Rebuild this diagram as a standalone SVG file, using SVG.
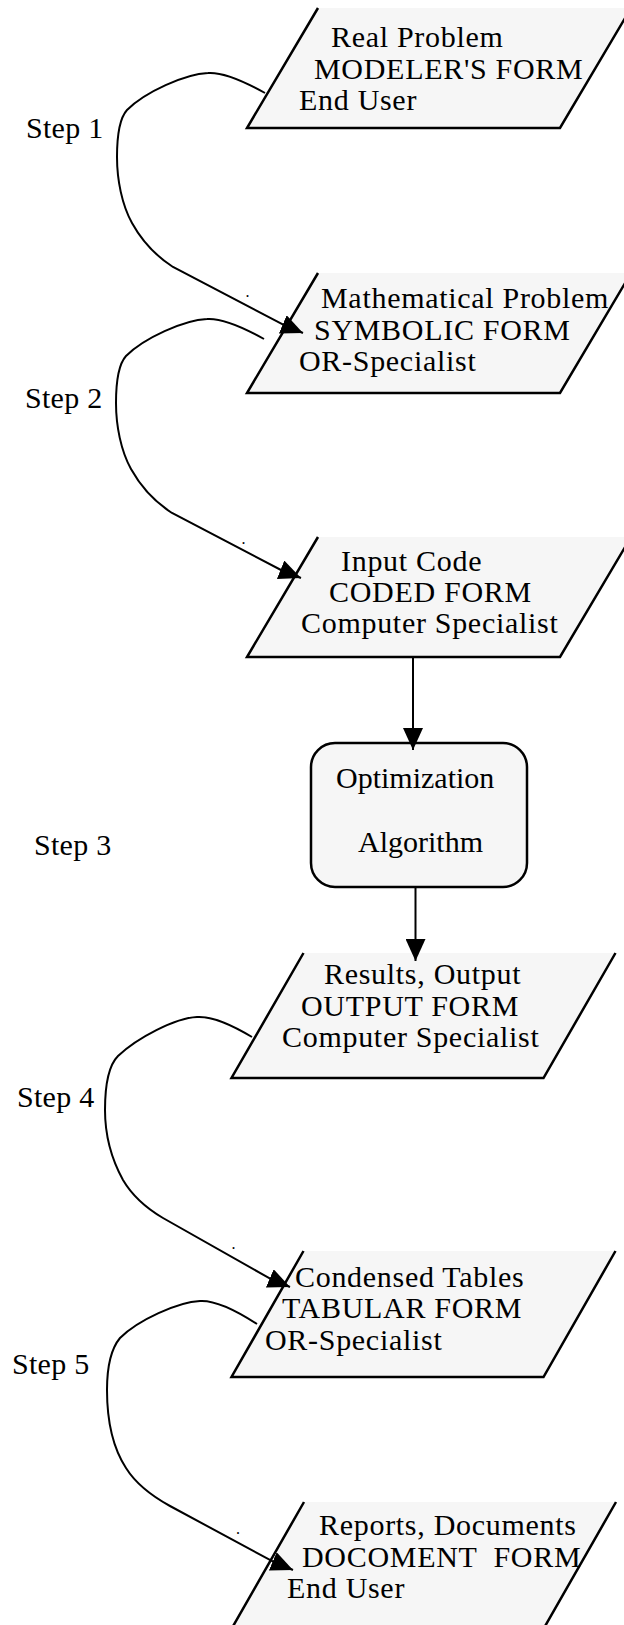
<svg xmlns="http://www.w3.org/2000/svg" width="624" height="1625" viewBox="0 0 624 1625">
  <style>
    .shape { fill: #f6f6f6; stroke: none; }
    .edge { fill: none; stroke: #000; stroke-width: 2.5; stroke-linejoin: miter; }
    .box { fill: #f6f6f6; stroke: #000; stroke-width: 2.5; }
    .t { font-family: "Liberation Serif", "Times New Roman", serif; font-size: 30px; fill: #000; white-space: pre; }
    .w { letter-spacing: 0.7px; }
    .s { letter-spacing: 0.3px; }
    .dot { font-family: "Liberation Serif", "Times New Roman", serif; font-size: 16px; fill: #000; }
    .link { fill: none; stroke: #000; stroke-width: 2; marker-end: url(#arrow); }
  </style>
  <defs>
    <marker id="arrow" markerUnits="userSpaceOnUse" viewBox="0 0 22 20" markerWidth="22" markerHeight="20" refX="22" refY="10" orient="auto">
      <path d="M0,0 L22,10 L0,20 z" fill="#000"/>
    </marker>
  </defs>

  <rect width="624" height="1625" fill="#fff"/>

  <!-- step labels on the left -->
  <g id="step-labels" class="t s">
    <text x="26" y="138">Step 1</text>
    <text x="25" y="408">Step 2</text>
    <text x="34" y="855">Step 3</text>
    <text x="17" y="1107">Step 4</text>
    <text x="12" y="1374">Step 5</text>
  </g>

  <!-- nodes: parallelograms are drawn open at the top -->
  <g id="real-problem" class="t w">
    <polygon class="shape" points="318,8 631,8 560,128 247,128"/>
    <polyline class="edge" points="318,8 247,128 560,128 631,8"/>
    <text x="331" y="47">Real Problem</text>
    <text x="314" y="79">MODELER'S FORM</text>
    <text x="299" y="110">End User</text>
  </g>

  <g id="mathematical-problem" class="t w">
    <polygon class="shape" points="318,273 631,273 560,393 247,393"/>
    <polyline class="edge" points="318,273 247,393 560,393 631,273"/>
    <text x="321" y="308">Mathematical Problem</text>
    <text x="314" y="340">SYMBOLIC FORM</text>
    <text x="299" y="371">OR-Specialist</text>
  </g>

  <g id="input-code" class="t w">
    <polygon class="shape" points="318,537 631,537 560,657 247,657"/>
    <polyline class="edge" points="318,537 247,657 560,657 631,537"/>
    <text x="341" y="571">Input Code</text>
    <text x="329" y="602">CODED FORM</text>
    <text x="301" y="633">Computer Specialist</text>
  </g>

  <g id="optimization-algorithm" class="t">
    <rect class="box" x="311" y="743" width="216" height="144" rx="24" ry="24"/>
    <text x="336" y="788">Optimization</text>
    <text x="358" y="852">Algorithm</text>
  </g>

  <g id="results-output" class="t w">
    <polygon class="shape" points="303.5,953 615.5,953 543.5,1078 231.5,1078"/>
    <polyline class="edge" points="303.5,953 231.5,1078 543.5,1078 615.5,953"/>
    <text x="324" y="984">Results, Output</text>
    <text x="301" y="1016">OUTPUT FORM</text>
    <text x="282" y="1047">Computer Specialist</text>
  </g>

  <g id="condensed-tables" class="t w">
    <polygon class="shape" points="303.5,1251 615.5,1251 543.5,1377 231.5,1377"/>
    <polyline class="edge" points="303.5,1251 231.5,1377 543.5,1377 615.5,1251"/>
    <text x="295" y="1287">Condensed Tables</text>
    <text x="282" y="1318">TABULAR FORM</text>
    <text x="265" y="1350">OR-Specialist</text>
  </g>

  <g id="reports-documents" class="t w">
    <polygon class="shape" points="304,1502 616,1502 544,1628 232,1628"/>
    <polyline class="edge" points="304,1502 232,1628 544,1628 616,1502"/>
    <text x="319" y="1535">Reports, Documents</text>
    <text x="302" y="1567" xml:space="preserve">DOCOMENT  FORM</text>
    <text x="287" y="1598">End User</text>
  </g>

  <!-- connectors -->
  <g id="connectors">
    <path class="link" d="M265,93 C240,79 222,72 208,73 C185,74 145,92 127,110 C118,120 117,140 117,157 C117,180 122,205 132,223 C142,241 156,256 173,267 L282.7,324.4 L303,333"/>
    <path class="link" d="M264,339 C239,325 221,318 207,319 C184,320 144,338 126,356 C117,366 116,386 116,403 C116,426 121,451 131,469 C141,487 155,502 172,513 L281,570 L301,578"/>
    <path class="link" d="M413,657 L413,750"/>
    <path class="link" d="M415.5,887 L415.5,961"/>
    <path class="link" d="M252,1037 C232,1025 212,1016 197,1017 C175,1018 137,1038 118,1056 C108,1066 105,1090 105,1110 C105,1135 112,1160 123,1180 C133,1197 146,1208 163,1218 L269.7,1278.4 L290,1287"/>
    <path class="link" d="M257,1324 C237,1311 216,1300 200,1301 C178,1302 138,1320 120,1338 C110,1350 107,1370 107,1390 C107,1420 113,1448 126,1468 C136,1484 150,1495 170,1506 L272.7,1561.4 L293,1570"/>
    <text class="dot" x="245.5" y="297">.</text>
    <text class="dot" x="241.5" y="543.5">.</text>
    <text class="dot" x="231.5" y="1249">.</text>
    <text class="dot" x="236" y="1534">.</text>
  </g>
</svg>
